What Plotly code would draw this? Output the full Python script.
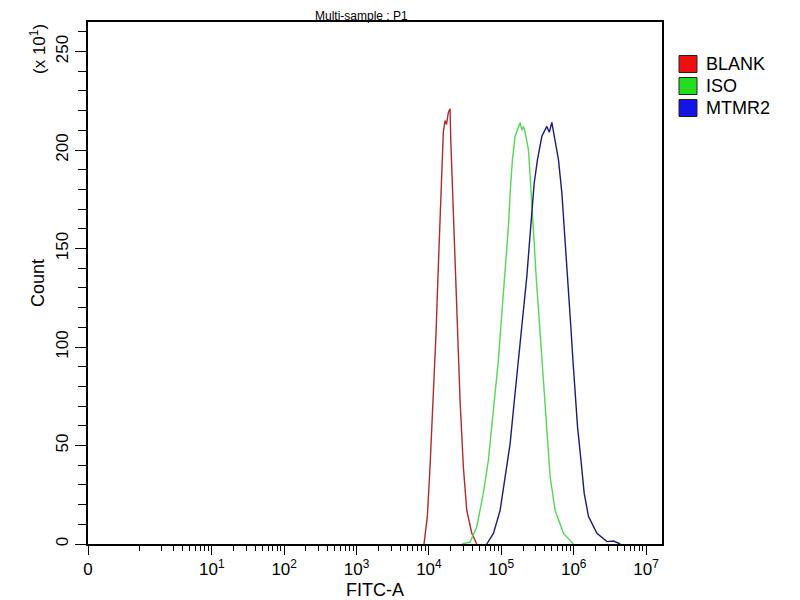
import plotly.graph_objects as go

# FITC-A intensity and counts (axis shows counts x 10^1)
blank_fitc = [8550, 9510, 10350, 11510, 12530, 13490, 14550, 15810, 16710, 17500,
              18540, 19590, 20040, 21330, 22960, 24720, 26920, 29920, 33340, 39080,
              45810]
blank_count = [0, 14, 39, 73, 107, 141, 175, 209, 215, 213,
               219, 221, 205, 175, 141, 107, 73, 39, 17, 5.5,
               0]

iso_fitc = [28710, 36980, 45810, 56490, 66370, 73950, 82050, 91200, 98400, 106900,
            116400, 125300, 132400, 142200, 155200, 182000, 192000, 202000, 213300, 237100,
            250000, 264200, 284400, 302700, 325800, 351600, 374900, 403600, 434500, 473200,
            554600, 722800, 993200]
iso_count = [0, 1, 8.8, 25.8, 42.7, 59.6, 76.6, 93.5, 110, 127.3,
             144, 161, 178, 195, 207, 214, 210, 212, 209, 200,
             187, 170, 153, 136, 119, 102, 85, 68, 51, 34,
             17, 5.4, 0]

mtmr2_fitc = [62950, 77800, 96200, 113000, 132400, 146900, 163700, 182000, 202300, 225400,
              244900, 264200, 284400, 315600, 363100, 425600, 460000, 498900, 554600, 616600,
              687100, 739000, 805400, 866400, 914200, 975000, 1050000, 1130000, 1259000, 1396000,
              1603000, 2094000, 2877000, 3556000, 4395000]
mtmr2_count = [0, 5.4, 17, 34, 51, 68, 85, 102, 119, 136,
               153, 170, 183, 195, 207, 212, 209, 214, 205, 195,
               178, 161, 144, 127, 110, 93.5, 76.6, 59.6, 42.7, 25.8,
               13.9, 5.4, 1.2, 1.5, 0]

series_names = ["BLANK", "ISO", "MTMR2"]
line_colors = ["#b02a2a", "#55d855", "#1c1c78"]
legend_colors = ["#ee1010", "#22dd22", "#1414e6"]

x_tickvals = [10 ** -0.71, 1e1, 1e2, 1e3, 1e4, 1e5, 1e6, 1e7]
x_ticktext = ["0"] + [f"10<sup>{k}</sup>" for k in range(1, 8)]
x_minor = [m * 10 ** k for k in range(0, 7) for m in range(1, 10) if not (m == 1 and k > 0)]

y_tickvals = [0, 50, 100, 150, 200, 250]

FONT = "Liberation Sans, Arial, sans-serif"

# the page body adds 8px around the figure, so the figure is 8px smaller
W, H = 792, 592
# plot area in figure pixels
L, R, T, B = 80, 654, 14, 536


def px_x(px):
    return (px - 8 - L) / (R - L)


def px_y(py):
    return (B - (py - 8)) / (B - T)


fig = go.Figure()
for name, xs, ys, col in zip(series_names,
                             [blank_fitc, iso_fitc, mtmr2_fitc],
                             [blank_count, iso_count, mtmr2_count],
                             line_colors):
    fig.add_trace(go.Scatter(x=xs, y=ys, name=name, mode="lines",
                             line=dict(color=col, width=1.4), showlegend=False))

fig.update_xaxes(
    type="log", range=[-0.71, 7.22], automargin=False,
    tickmode="array", tickvals=x_tickvals, ticktext=x_ticktext,
    ticks="outside", ticklen=9, tickwidth=1, tickcolor="black",
    minor=dict(tickmode="array", tickvals=x_minor, ticks="outside",
               ticklen=5, tickcolor="black"),
    showgrid=False, zeroline=False,
    showline=True, linecolor="black", linewidth=1.5, mirror=True,
    tickfont=dict(family=FONT, size=17, color="black"),
    title=dict(text="FITC-A", font=dict(family=FONT, size=18, color="black"), standoff=6),
)
fig.update_yaxes(
    range=[0, 265], automargin=False,
    tickmode="array", tickvals=y_tickvals, tickangle=-90,
    ticks="outside", ticklen=11, tickwidth=1, tickcolor="black",
    minor=dict(dtick=10, ticks="outside", ticklen=8, tickcolor="black"),
    showgrid=False, zeroline=False,
    showline=True, linecolor="black", linewidth=1.5, mirror=True,
    tickfont=dict(family=FONT, size=17, color="black"),
    title=dict(text="Count", font=dict(family=FONT, size=18, color="black"), standoff=4),
)

annotations = [
    # only 14px above the frame, so the title is kept small to fit
    dict(text="Multi-sample : P1", x=px_x(361), y=B / (B - T), xref="paper", yref="paper",
         xanchor="center", yanchor="top", borderpad=0, showarrow=False,
         font=dict(family=FONT, size=12, color="black")),
    dict(text="(x 10<sup>1</sup>)", x=px_x(38), y=px_y(49), xref="paper", yref="paper",
         xanchor="center", yanchor="middle", textangle=-90, showarrow=False,
         font=dict(family=FONT, size=17, color="black")),
]
shapes = []
for i, (name, col) in enumerate(zip(series_names, legend_colors)):
    cy = 64 + 22 * i
    shapes.append(dict(type="rect", xref="paper", yref="paper",
                       x0=px_x(679), x1=px_x(697), y0=px_y(cy + 8.5), y1=px_y(cy - 8.5),
                       fillcolor=col, line=dict(color="#222222", width=1)))
    annotations.append(dict(text=name, x=px_x(704), y=px_y(cy), xref="paper", yref="paper",
                            xanchor="left", yanchor="middle", showarrow=False,
                            font=dict(family=FONT, size=18, color="black")))

fig.update_layout(
    width=W, height=H,
    margin=dict(l=L, r=W - R, t=T, b=H - B),
    paper_bgcolor="white", plot_bgcolor="white",
    annotations=annotations, shapes=shapes,
)
fig.write_html("out.html")
